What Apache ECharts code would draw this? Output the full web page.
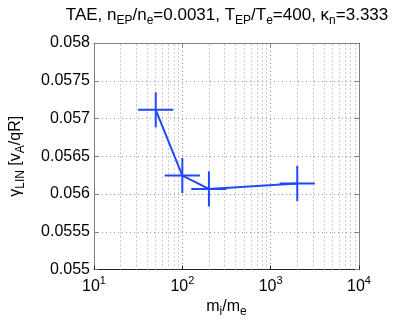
<!DOCTYPE html>
<html><head><meta charset="utf-8">
<script src="https://cdn.jsdelivr.net/npm/echarts@6/dist/echarts.min.js"></script>
<style>html,body{margin:0;padding:0;background:#fff}#c{width:397px;height:323px}</style>
</head><body><div id="c"></div>
<script>
const massRatio = [50, 100, 200, 2000];
const gammaLin = [0.057115, 0.056245, 0.056068, 0.05614];
const massLow = [31.6, 63.2, 126, 1265];
const massHigh = [79, 158, 316, 3160];
const gammaErr = [0.000233, 0.000233, 0.000233, 0.000233];
const xTicks = [10, 100, 1000, 10000];
const xMinorGrid = [20,30,40,50,60,70,80,90,200,300,400,500,600,700,800,900,2000,3000,4000,5000,6000,7000,8000,9000];
const yTicks = [0.055, 0.0555, 0.056, 0.0565, 0.057, 0.0575, 0.058];

const FONT = 'Liberation Sans';
const BLUE = '#2346ff';
const chart = echarts.init(document.getElementById('c'));
const errData = massRatio.map((x, i) => [x, gammaLin[i], massLow[i], massHigh[i], gammaLin[i] - gammaErr[i], gammaLin[i] + gammaErr[i]]);
const gridStyle = {color: '#9a9a9a', width: 1, type: [1, 3]};

chart.setOption({
  animation: false,
  textStyle: {fontFamily: FONT},
  title: {
    text: '{n|TAE, n}{s|EP}{n|/n}{s|e}{n|=0.0031, T}{s|EP}{n|/T}{s|e}{n|=400, κ}{s|n}{n|=3.333}',
    left: 222, top: -1, textAlign: 'center',
    textStyle: {
      fontWeight: 'normal',
      rich: {
        n: {fontFamily: FONT, fontSize: 17, fontWeight: 'normal', color: '#000'},
        s: {fontFamily: FONT, fontSize: 12, fontWeight: 'normal', color: '#000', padding: [11, 0, 0, 0]}
      }
    }
  },
  grid: {left: 91, right: 38, top: 43, bottom: 51},
  xAxis: [{
    type: 'log', logBase: 10, min: xTicks[0], max: xTicks[xTicks.length - 1],
    axisLine: {show: true, lineStyle: {color: '#222', width: 1}},
    axisTick: {show: true, inside: true, length: 4, lineStyle: {color: '#222'}},
    splitLine: {show: true, lineStyle: gridStyle},
    axisLabel: {
      margin: 6, color: '#000',
      formatter: v => '{b|10}{p|' + Math.round(Math.log10(v)) + '}',
      rich: {
        b: {fontFamily: FONT, fontSize: 16, color: '#000'},
        p: {fontFamily: FONT, fontSize: 11, color: '#000', padding: [0, 0, 10, 0]}
      }
    },
    name: '{n|m}{s|i}{n|/m}{s|e}', nameLocation: 'middle', nameGap: 26,
    nameTextStyle: {
      rich: {
        n: {fontFamily: FONT, fontSize: 16, color: '#000'},
        s: {fontFamily: FONT, fontSize: 12, color: '#000', padding: [10, 0, 0, 0]}
      }
    }
  }, {
    type: 'log', logBase: 10, min: xTicks[0], max: xTicks[xTicks.length - 1], position: 'top',
    axisLine: {show: true, lineStyle: {color: '#808080', width: 1}},
    axisTick: {show: true, inside: true, length: 4, lineStyle: {color: '#808080'}},
    axisLabel: {show: false}, splitLine: {show: false}
  }],
  yAxis: [{
    type: 'value', min: yTicks[0], max: yTicks[yTicks.length - 1], interval: 0.0005,
    axisLine: {show: true, lineStyle: {color: '#808080', width: 1}},
    axisTick: {show: true, inside: true, length: 4, lineStyle: {color: '#808080'}},
    splitLine: {show: true, lineStyle: gridStyle},
    axisLabel: {margin: 4, color: '#000', fontFamily: FONT, fontSize: 16, formatter: v => String(+v.toFixed(4))},
    name: '{n|γ}{s|LIN}{n| [v}{s|A}{n|/qR]}', nameLocation: 'middle', nameGap: 67, nameRotate: 90,
    nameTextStyle: {
      rich: {
        n: {fontFamily: FONT, fontSize: 16, color: '#000'},
        s: {fontFamily: FONT, fontSize: 12, color: '#000', padding: [10, 0, 0, 0]}
      }
    }
  }, {
    type: 'value', min: yTicks[0], max: yTicks[yTicks.length - 1], interval: 0.0005, position: 'right',
    axisLine: {show: true, lineStyle: {color: '#808080', width: 1}},
    axisTick: {show: true, inside: true, length: 4, lineStyle: {color: '#808080'}},
    axisLabel: {show: false}, splitLine: {show: false}
  }],
  series: [{
    type: 'line', xAxisIndex: 0, yAxisIndex: 0,
    data: [], silent: true,
    markLine: {
      silent: true, symbol: 'none', label: {show: false},
      lineStyle: gridStyle, animation: false,
      data: xMinorGrid.map(v => ({xAxis: v}))
    }
  }, {
    type: 'line', xAxisIndex: 0, yAxisIndex: 0,
    data: massRatio.map((x, i) => [x, gammaLin[i]]),
    showSymbol: false, symbol: 'none',
    lineStyle: {color: BLUE, width: 2}, z: 5
  }, {
    type: 'custom', xAxisIndex: 0, yAxisIndex: 0, z: 6,
    data: errData,
    renderItem: (params, api) => {
      const c = api.coord([api.value(0), api.value(1)]);
      const l = api.coord([api.value(2), api.value(1)]);
      const r = api.coord([api.value(3), api.value(1)]);
      const lo = api.coord([api.value(0), api.value(4)]);
      const hi = api.coord([api.value(0), api.value(5)]);
      const st = {stroke: BLUE, lineWidth: 2};
      return {type: 'group', children: [
        {type: 'line', shape: {x1: l[0], y1: c[1], x2: r[0], y2: c[1]}, style: st},
        {type: 'line', shape: {x1: c[0], y1: lo[1], x2: c[0], y2: hi[1]}, style: st}
      ]};
    }
  }]
});
</script></body></html>
